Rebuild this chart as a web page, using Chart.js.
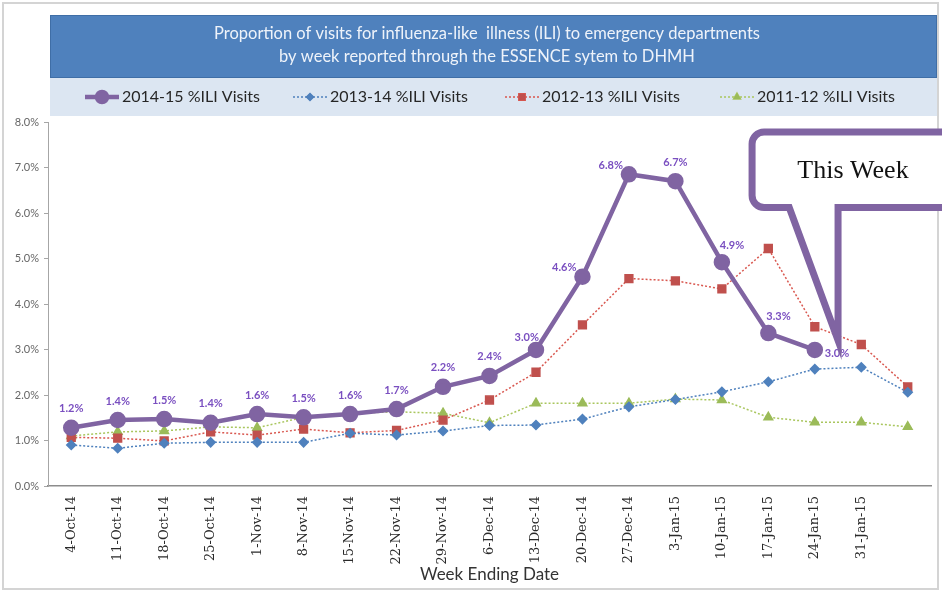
<!DOCTYPE html>
<html>
<head>
<meta charset="utf-8">
<script src="https://cdn.jsdelivr.net/npm/chart.js@4.4.1/dist/chart.umd.min.js"></script>
<style>
  html, body { margin: 0; padding: 0; background: #fff; }
  #wrap { width: 942px; height: 592px; position: relative; }
</style>
</head>
<body>
<div id="wrap"><canvas id="ili" width="942" height="592"></canvas></div>
<script>
// Week ending dates (last category has no label in the original)
const weeks = ['4-Oct-14', '11-Oct-14', '18-Oct-14', '25-Oct-14', '1-Nov-14', '8-Nov-14',
    '15-Nov-14', '22-Nov-14', '29-Nov-14', '6-Dec-14', '13-Dec-14', '20-Dec-14', '27-Dec-14',
    '3-Jan-15', '10-Jan-15', '17-Jan-15', '24-Jan-15', '31-Jan-15', ''];

const ili1415 = [1.28, 1.45, 1.47, 1.39, 1.58, 1.51, 1.58, 1.69, 2.18, 2.42, 2.99, 4.60, 6.85, 6.70, 4.92, 3.36, 2.99];
const ili1415Labels = ['1.2%', '1.4%', '1.5%', '1.4%', '1.6%', '1.5%', '1.6%', '1.7%', '2.2%', '2.4%',
    '3.0%', '4.6%', '6.8%', '6.7%', '4.9%', '3.3%', '3.0%'];
const ili1314 = [0.90, 0.83, 0.94, 0.96, 0.96, 0.96, 1.16, 1.12, 1.21, 1.33, 1.34, 1.47, 1.74, 1.90, 2.07, 2.29, 2.57, 2.61, 2.06];
const ili1213 = [1.07, 1.05, 0.99, 1.19, 1.12, 1.25, 1.17, 1.22, 1.45, 1.89, 2.50, 3.54, 4.56, 4.51, 4.33, 5.22, 3.50, 3.11, 2.18];
const ili1112 = [1.10, 1.19, 1.21, 1.30, 1.28, 1.51, 1.60, 1.63, 1.60, 1.39, 1.82, 1.82, 1.82, 1.91, 1.89, 1.51, 1.40, 1.40, 1.30];

const yTicks = [0, 1, 2, 3, 4, 5, 6, 7, 8];

const PURPLE = '#8064A2';
const LABEL_PURPLE = '#7a4fc0';
const FONT = "Lato, 'Liberation Sans', sans-serif";

// where each data label sits relative to its point
const labelAlign = ['top', 'top', 'top', 'top', 'top', 'top', 'top', 'top', 'top', 'top',
    'topleft', 'left', 'left', 'top', 'topright', 'topright', 'right'];

// header: blue title box + light legend strip + outer frame
const headerPlugin = {
    id: 'header',
    beforeDraw(chart) {
        const ctx = chart.ctx;
        ctx.save();
        ctx.fillStyle = '#fff';
        ctx.fillRect(0, 0, chart.width, chart.height);
        ctx.strokeStyle = '#d4d4d4';
        ctx.lineWidth = 2;
        ctx.strokeRect(3, 3, 935, 586);

        ctx.fillStyle = '#4F81BD';
        ctx.fillRect(50, 15, 887, 63);
        ctx.strokeStyle = '#3f6ea6';
        ctx.lineWidth = 1;
        ctx.strokeRect(50.5, 15.5, 886, 62);
        ctx.fillStyle = '#dce6f2';
        ctx.fillRect(50, 78, 887, 38);

        ctx.fillStyle = '#eef3fa';
        ctx.font = '16.5px ' + FONT;
        ctx.textAlign = 'center';
        ctx.textBaseline = 'middle';
        ctx.fillText('Proportion of visits for influenza-like  illness (ILI) to emergency departments', 487, 34);
        ctx.fillText('by week reported through the ESSENCE sytem to DHMH', 487, 57);

        // legend
        const starts = [85, 293, 505, 720];
        chart.data.datasets.forEach((ds, i) => {
            const x = starts[i];
            const y = 97;
            ctx.beginPath();
            ctx.strokeStyle = ds.borderColor;
            ctx.lineWidth = ds.borderWidth;
            ctx.setLineDash(ds.borderDash || []);
            ctx.moveTo(x, y);
            ctx.lineTo(x + 34, y);
            ctx.stroke();
            ctx.setLineDash([]);
            Chart.helpers.drawPoint(ctx, {
                pointStyle: ds.pointStyle,
                radius: ds.legendRadius,
                borderWidth: 1,
            }, x + 17, y);
            ctx.fillStyle = ds.pointBackgroundColor;
            ctx.strokeStyle = ds.pointBorderColor;
            ctx.fill();
            ctx.fillStyle = '#262626';
            ctx.font = '16px ' + FONT;
            ctx.textAlign = 'left';
            ctx.fillText(ds.label, x + 37, y);
        });
        ctx.restore();
    },
};

// purple value labels + "This Week" callout
const callout = { left: 14.65, notch1: 15.45, tip: 16.5, top: 7.78, bottom: 6.12, tipY: 3.2 };

const overlayPlugin = {
    id: 'overlay',
    afterDatasetsDraw(chart) {
        const ctx = chart.ctx;
        const meta = chart.getDatasetMeta(0);
        ctx.save();
        ctx.fillStyle = LABEL_PURPLE;
        ctx.font = 'bold 11px ' + FONT;
        ctx.textBaseline = 'middle';
        meta.data.forEach((pt, i) => {
            const a = labelAlign[i];
            let tx = pt.x, ty = pt.y - 19, al = 'center';
            if (a === 'left') { tx = pt.x - 6; ty = pt.y - 9; al = 'right'; }
            if (a === 'topleft') { tx = pt.x + 3; ty = pt.y - 13; al = 'right'; }
            if (a === 'topright') { tx = pt.x - 2; ty = pt.y - 17; al = 'left'; }
            if (a === 'right') { tx = pt.x + 10; ty = pt.y + 3; al = 'left'; }
            ctx.textAlign = al;
            ctx.fillText(ili1415Labels[i], tx, ty);
        });

        const xs = chart.scales.x, ys = chart.scales.y;
        const L = xs.getPixelForValue(callout.left);
        const N1 = xs.getPixelForValue(callout.notch1);
        const T = xs.getPixelForValue(callout.tip);
        const top = ys.getPixelForValue(callout.top);
        const bot = ys.getPixelForValue(callout.bottom);
        const tipY = ys.getPixelForValue(callout.tipY);
        const R = chart.width + 30;
        const r = 12;
        ctx.beginPath();
        ctx.moveTo(L + r, top);
        ctx.lineTo(R, top);
        ctx.lineTo(R, bot);
        ctx.lineTo(T, bot);
        ctx.lineTo(T, tipY);
        ctx.lineTo(N1, bot);
        ctx.lineTo(L + r, bot);
        ctx.arcTo(L, bot, L, bot - r, r);
        ctx.lineTo(L, top + r);
        ctx.arcTo(L, top, L + r, top, r);
        ctx.closePath();
        ctx.fillStyle = '#fff';
        ctx.fill();
        ctx.strokeStyle = PURPLE;
        ctx.lineWidth = 7;
        ctx.lineJoin = 'miter';
        ctx.stroke();

        ctx.fillStyle = '#111';
        ctx.font = "26px 'Liberation Serif', 'DejaVu Serif', serif";
        ctx.textAlign = 'center';
        ctx.textBaseline = 'middle';
        ctx.fillText('This Week', 853, (top + bot) / 2 + 1);
        ctx.restore();
    },
};

new Chart(document.getElementById('ili'), {
    type: 'line',
    data: {
        labels: weeks,
        datasets: [{
            label: '2014-15 %ILI Visits',
            data: ili1415,
            borderColor: PURPLE,
            borderWidth: 4.5,
            pointStyle: 'circle',
            pointRadius: 6,
            legendRadius: 5,
            pointBackgroundColor: PURPLE,
            pointBorderColor: PURPLE,
            tension: 0,
        }, {
            label: '2013-14 %ILI Visits',
            data: ili1314,
            borderColor: '#4F81BD',
            borderWidth: 1.5,
            borderDash: [2, 2],
            pointStyle: 'rectRot',
            pointRadius: 4.5,
            legendRadius: 3.5,
            pointBackgroundColor: '#4F81BD',
            pointBorderColor: '#4F81BD',
            tension: 0,
        }, {
            label: '2012-13 %ILI Visits',
            data: ili1213,
            borderColor: '#d9574f',
            borderWidth: 1.5,
            borderDash: [2, 2],
            pointStyle: 'rect',
            pointRadius: 5.5,
            legendRadius: 4.5,
            pointBackgroundColor: '#C0504D',
            pointBorderColor: '#C0504D',
            tension: 0,
        }, {
            label: '2011-12 %ILI Visits',
            data: ili1112,
            borderColor: '#a9c65e',
            borderWidth: 1.5,
            borderDash: [2, 2],
            pointStyle: 'triangle',
            pointRadius: 5,
            legendRadius: 4,
            pointBackgroundColor: '#9BBB59',
            pointBorderColor: '#9BBB59',
            tension: 0,
        }],
    },
    options: {
        responsive: false,
        animation: false,
        layout: { padding: { left: 8, right: 11, top: 122, bottom: 6 } },
        plugins: {
            legend: { display: false },
            tooltip: { enabled: false },
        },
        scales: {
            x: {
                offset: true,
                afterFit: (s) => { s.height = 100; },
                grid: { display: true, drawOnChartArea: false, drawTicks: false },
                border: { color: '#8c8c8c', width: 1.5 },
                ticks: {
                    autoSkip: false,
                    minRotation: 90,
                    maxRotation: 90,
                    padding: 10,
                    color: '#2a2a2a',
                    font: { family: "'DejaVu Serif', serif", size: 13 },
                },
                title: {
                    display: true,
                    text: 'Week Ending Date',
                    color: '#333',
                    padding: { top: 0, bottom: 1 },
                    font: { family: FONT, size: 17 },
                },
            },
            y: {
                min: 0,
                max: 8,
                afterFit: (s) => { s.width = 40; },
                afterBuildTicks: (s) => { s.ticks = yTicks.map(v => ({ value: v })); },
                grid: { display: true, drawOnChartArea: false, drawTicks: true, tickLength: 4, color: '#a6a6a6' },
                border: { color: '#a6a6a6', width: 1 },
                ticks: {
                    color: '#666',
                    padding: 5,
                    font: { family: FONT, size: 11 },
                    callback: (v) => v.toFixed(1) + '%',
                },
            },
        },
    },
    plugins: [headerPlugin, overlayPlugin],
});
</script>
</body>
</html>
